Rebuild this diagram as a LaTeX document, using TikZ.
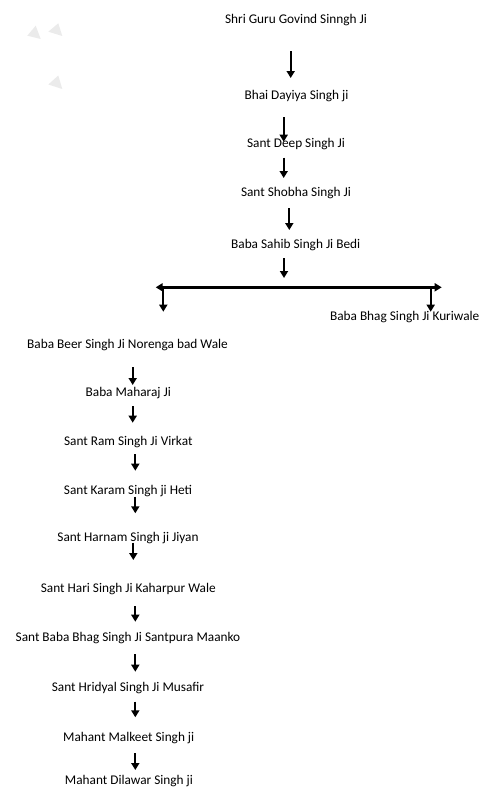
\documentclass[tikz,border=0pt]{standalone}
\usepackage{fontspec}
\setmainfont{Carlito}
\usetikzlibrary{arrows.meta}
\begin{document}
\begin{tikzpicture}[x=1pt,y=-1pt,
  lbl/.style={inner sep=0pt,font=\fontsize{13.3}{15}\selectfont},
  dnarrow/.style={line width=1.8pt,-{Triangle[length=7pt,width=8pt]}},
  bararrow/.style={line width=2.4pt,{Triangle[length=7pt,width=8pt]}-{Triangle[length=7pt,width=8pt]}},
  wm/.style={fill=black!8,draw=none}]
\useasboundingbox (0,0) rectangle (482,790);
% faint watermark triangles
\fill[wm] (35.7,25.7) -- (27.3,35.7) -- (40.7,39) -- cycle;
\fill[wm] (58.3,23.3) -- (48.3,31.7) -- (62.3,36) -- cycle;
\fill[wm] (58.3,75.5) -- (48.3,84.5) -- (62.3,89) -- cycle;
% names
\node[lbl] (n1) at (296,20) {Shri Guru Govind Sinngh Ji};
\node[lbl] (n2) at (296.5,95.7) {Bhai Dayiya Singh ji};
\node[lbl] (n3) at (296,144) {Sant Deep Singh Ji};
\node[lbl] (n4) at (296,193) {Sant Shobha Singh Ji};
\node[lbl] (n5) at (295.7,245) {Baba Sahib Singh Ji Bedi};
\node[lbl] (n6) at (404.7,316.7) {Baba Bhag Singh Ji Kuriwale};
\node[lbl] (n7) at (127.5,345) {Baba Beer Singh Ji Norenga bad Wale};
\node[lbl] (n8) at (128.3,392.7) {Baba Maharaj Ji};
\node[lbl] (n9) at (128.3,441.7) {Sant Ram Singh Ji Virkat};
\node[lbl] (n10) at (128,490.7) {Sant Karam Singh ji Heti};
\node[lbl] (n11) at (128,538.3) {Sant Harnam Singh ji Jiyan};
\node[lbl] (n12) at (128.3,589.3) {Sant Hari Singh Ji Kaharpur Wale};
\node[lbl] (n13) at (128,637.7) {Sant Baba Bhag Singh Ji Santpura Maanko};
\node[lbl] (n14) at (128,688.3) {Sant Hridyal Singh Ji Musafir};
\node[lbl] (n15) at (128.7,738.3) {Mahant Malkeet Singh ji};
\node[lbl] (n16) at (129,781.5) {Mahant Dilawar Singh ji};
% arrow end coordinates
\coordinate (a1s) at (290.7,51);   \coordinate (a1e) at (290.7,78);
\coordinate (a2s) at (283.7,117);  \coordinate (a2e) at (283.7,141.7);
\coordinate (a3s) at (283.7,157.7);\coordinate (a3e) at (283.7,178);
\coordinate (a4s) at (289.3,208);  \coordinate (a4e) at (289.3,230);
\coordinate (a5s) at (284,258);    \coordinate (a5e) at (284,278);
\coordinate (bl) at (155.7,287.3); \coordinate (br) at (441.7,287.3);
\coordinate (d1s) at (163.3,287.3);\coordinate (d1e) at (163.3,311.7);
\coordinate (d2s) at (430.7,287.3);\coordinate (d2e) at (430.7,311.7);
\coordinate (a6s) at (132.7,367);  \coordinate (a6e) at (132.7,385);
\coordinate (a7s) at (132.7,406);  \coordinate (a7e) at (132.7,422.7);
\coordinate (a8s) at (135.3,454);  \coordinate (a8e) at (135.3,470.7);
\coordinate (a9s) at (135.3,496.7);\coordinate (a9e) at (135.3,513.3);
\coordinate (a10s) at (133.3,542.7);\coordinate (a10e) at (133.3,560);
\coordinate (a11s) at (135.3,606); \coordinate (a11e) at (135.3,621.7);
\coordinate (a12s) at (135.3,654); \coordinate (a12e) at (135.3,671.7);
\coordinate (a13s) at (135.3,701.7);\coordinate (a13e) at (135.3,717.3);
\coordinate (a14s) at (135.3,753.3);\coordinate (a14e) at (135.3,770);
% connectors
\foreach \i in {1,...,14}{\draw[dnarrow] (a\i s) -- (a\i e);}
\draw[bararrow] (bl) -- (br);
\draw[dnarrow] (d1s) -- (d1e);
\draw[dnarrow] (d2s) -- (d2e);
\end{tikzpicture}
\end{document}
